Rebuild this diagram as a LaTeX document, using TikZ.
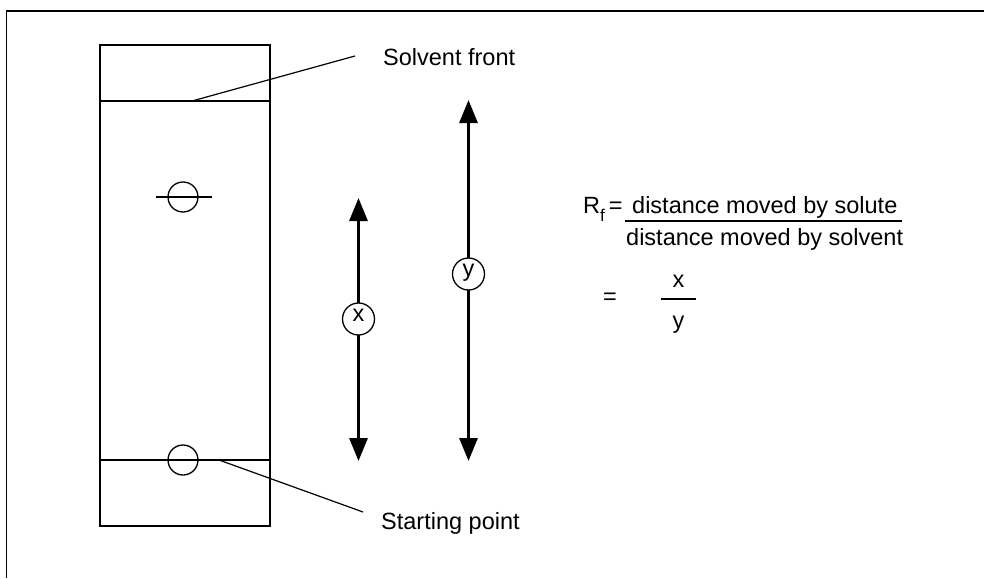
\documentclass[tikz,border=0pt]{standalone}
\usepackage{fontspec}
\setmainfont{Liberation Sans}
\usetikzlibrary{arrows.meta}
\begin{document}
\begin{tikzpicture}[x=1pt,y=-1pt,
  lbl/.style={inner sep=0pt,font=\fontsize{23.5}{28}\selectfont},
  thin line/.style={line width=1.2pt},
  dimarrow/.style={line width=3pt,{Triangle[width=18pt,length=23pt]}-{Triangle[width=18pt,length=23pt]}},
  ring/.style={circle,draw,line width=1.3pt,fill=white,minimum size=32pt,inner sep=0pt,text height=1ex,text depth=0pt,font=\fontsize{23.5}{28}\selectfont},
  spot/.style={circle,draw,line width=1.3pt,minimum size=30pt,inner sep=0pt}]
\useasboundingbox (0,0) rectangle (984,578);
% frame
\draw[line width=1.5pt] (984,11) -- (6.5,11) -- (6.5,578);
% plate
\draw[thin line] (100,45) rectangle (270,526);
\coordinate (sfL) at (100,101);
\coordinate (sfR) at (270,101);
\coordinate (spL) at (100,460);
\coordinate (spR) at (270,460);
\draw[thin line] (sfL) -- (sfR);
\draw[thin line] (spL) -- (spR);
% spots
\node[spot] (top) at (183,197) {};
\coordinate (tl) at (156,197);
\coordinate (tr) at (212,197);
\draw[thin line] (tl) -- (tr);
\node[spot] (bot) at (183,460) {};
% labels and leaders
\node[lbl,anchor=base west] (solv) at (383,65) {Solvent front};
\node[lbl,anchor=base west] (start) at (381,529) {Starting point};
\coordinate (sfA) at (192,101);
\coordinate (sfB) at (355,56);
\coordinate (spA) at (219,460);
\coordinate (spB) at (363,512);
\draw[thin line] (sfA) -- (sfB);
\draw[thin line] (spA) -- (spB);
% dimension arrows
\coordinate (xb) at (358.5,461);
\coordinate (xt) at (358.5,198);
\coordinate (yb) at (468.5,461);
\coordinate (yt) at (468.5,100);
\draw[dimarrow] (xb) -- (xt);
\draw[dimarrow] (yb) -- (yt);
\node[ring] (xc) at (358.5,319) {x};
\node[ring] (yc) at (468.5,274) {y};
% formula
\node[lbl,anchor=base west] (rf) at (583,213) {R\raisebox{-8pt}{\fontsize{17}{20}\selectfont f}\hspace{4pt}=};
\node[lbl,anchor=base west] (num) at (632,213) {distance moved by solute};
\node[lbl,anchor=base west] (den) at (626,245) {distance moved by solvent};
\coordinate (f1a) at (625,221);
\coordinate (f1b) at (902,221);
\draw[line width=1.5pt] (f1a) -- (f1b);
\node[lbl,anchor=base] (eq) at (610,304) {=};
\node[lbl,anchor=base] (fx) at (678.5,287) {x};
\node[lbl,anchor=base] (fy) at (678.5,328) {y};
\coordinate (f2a) at (661,299);
\coordinate (f2b) at (696,299);
\draw[line width=1.3pt] (f2a) -- (f2b);
\end{tikzpicture}
\end{document}
